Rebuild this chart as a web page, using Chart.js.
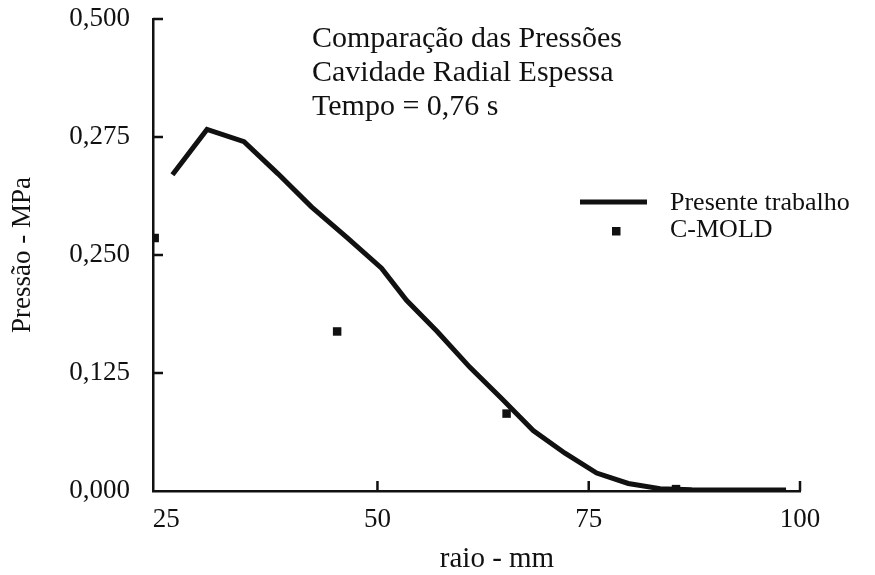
<!DOCTYPE html>
<html>
<head>
<meta charset="utf-8">
<title>Comparação das Pressões</title>
<script src="https://cdn.jsdelivr.net/npm/chart.js"></script>
<style>
    body { margin: 0; background: #fff; }
    #chart { display: block; }
</style>
</head>
<body>
<canvas id="chart" width="875" height="575"></canvas>
<script>
// values (raio in mm, pressao in MPa)
const raioPresente = [25.74, 29.83, 34.21, 38.24, 42.19, 46.34, 50.48, 53.44, 57.07, 60.94,
                      64.69, 68.43, 72.19, 75.94, 79.68, 83.44, 87.19, 90.93, 94.68, 98.35];
const pressaoPresente = [0.335, 0.383, 0.370, 0.336, 0.301, 0.269, 0.236, 0.202, 0.169, 0.131,
                         0.098, 0.064, 0.040, 0.019, 0.008, 0.0025, 0.0013, 0.001, 0.001, 0.001];
const raioCmold = [23.64, 45.23, 65.28, 85.33];
const pressaoCmold = [0.268, 0.169, 0.082, 0.002];

const xTicks = [25, 50, 75, 100];
const yTicks = [0, 0.125, 0.25, 0.375, 0.5];
const yTickLabels = ['0,000', '0,125', '0,250', '0,275', '0,500'];
const seriesNames = ['Presente trabalho', 'C-MOLD'];
const titleLines = ['Comparação das Pressões', 'Cavidade Radial Espessa', 'Tempo = 0,76 s'];
const xTitle = 'raio - mm';

const serif = "'Liberation Serif', 'Times New Roman', serif";
const ink = '#111';

// ticks point into the plot, and the text block + legend sit inside it
const decorations = {
    id: 'decorations',
    afterDraw(chart) {
        const ctx = chart.ctx;
        const area = chart.chartArea;
        const xs = chart.scales.x;
        const ys = chart.scales.y;
        ctx.save();
        ctx.strokeStyle = ink;
        ctx.lineWidth = 2.5;
        ctx.beginPath();
        xTicks.slice(1).forEach(v => {
            const px = xs.getPixelForValue(v);
            ctx.moveTo(px, area.bottom);
            ctx.lineTo(px, area.bottom - 10);
        });
        yTicks.slice(1).forEach(v => {
            const py = ys.getPixelForValue(v);
            ctx.moveTo(area.left, py);
            ctx.lineTo(area.left + 10, py);
        });
        ctx.stroke();

        ctx.fillStyle = ink;
        ctx.textAlign = 'left';
        ctx.textBaseline = 'alphabetic';
        ctx.font = '30px ' + serif;
        titleLines.forEach((t, i) => ctx.fillText(t, 312, 47 + i * 34));

        // x axis title sits a little right of the plot centre in the original
        ctx.font = '29px ' + serif;
        ctx.textAlign = 'center';
        ctx.textBaseline = 'middle';
        ctx.fillText(xTitle, 497, 559);

        // legend
        const ds = chart.data.datasets;
        ctx.textAlign = 'left';
        ctx.textBaseline = 'alphabetic';
        ctx.font = '26px ' + serif;
        ctx.strokeStyle = ds[0].borderColor;
        ctx.lineWidth = ds[0].borderWidth;
        ctx.beginPath();
        ctx.moveTo(580, 202);
        ctx.lineTo(647, 202);
        ctx.stroke();
        ctx.fillText(ds[0].label, 670, 210);
        ctx.fillStyle = ds[1].backgroundColor;
        ctx.fillRect(612, 227, 8.5, 8.5);
        ctx.fillStyle = ink;
        ctx.fillText(ds[1].label, 670, 237);
        ctx.restore();
    }
};

const ctx = document.getElementById('chart').getContext('2d');
new Chart(ctx, {
    type: 'scatter',
    data: {
        datasets: [
            {
                label: seriesNames[0],
                data: raioPresente.map((x, i) => ({ x: x, y: pressaoPresente[i] })),
                showLine: true,
                borderColor: ink,
                backgroundColor: ink,
                borderWidth: 5,
                pointRadius: 0,
                tension: 0
            },
            {
                label: seriesNames[1],
                data: raioCmold.map((x, i) => ({ x: x, y: pressaoCmold[i] })),
                pointStyle: 'rect',
                pointRadius: 6,
                borderWidth: 0,
                backgroundColor: ink,
                borderColor: ink
            }
        ]
    },
    options: {
        responsive: false,
        animation: false,
        layout: { padding: { top: 19, right: 75, left: 0, bottom: 0 } },
        plugins: {
            legend: { display: false },
            tooltip: { enabled: false }
        },
        scales: {
            x: {
                type: 'linear',
                min: 23.44,
                max: 100,
                afterBuildTicks: s => { s.ticks = xTicks.map(v => ({ value: v })); },
                afterFit: s => { s.height = 84; },
                grid: { display: false, drawTicks: false },
                border: { display: true, color: ink, width: 2.5 },
                ticks: {
                    color: ink,
                    padding: 13,
                    maxRotation: 0,
                    font: { family: serif, size: 27 }
                }
            },
            y: {
                type: 'linear',
                min: 0,
                max: 0.5,
                afterBuildTicks: s => { s.ticks = yTicks.map(v => ({ value: v })); },
                afterFit: s => {
                    s.width = 153;
                    s.paddingTop = 0;
                    s.paddingBottom = 0;
                },
                grid: { display: false, drawTicks: false },
                border: { display: true, color: ink, width: 2.5 },
                ticks: {
                    color: ink,
                    padding: 23,
                    font: { family: serif, size: 27 },
                    callback: (v, i) => yTickLabels[i]
                },
                title: {
                    display: true,
                    text: 'Pressão - MPa',
                    color: ink,
                    padding: { top: 7, bottom: 0 },
                    font: { family: serif, size: 27 }
                }
            }
        }
    },
    plugins: [decorations]
});
</script>
</body>
</html>
